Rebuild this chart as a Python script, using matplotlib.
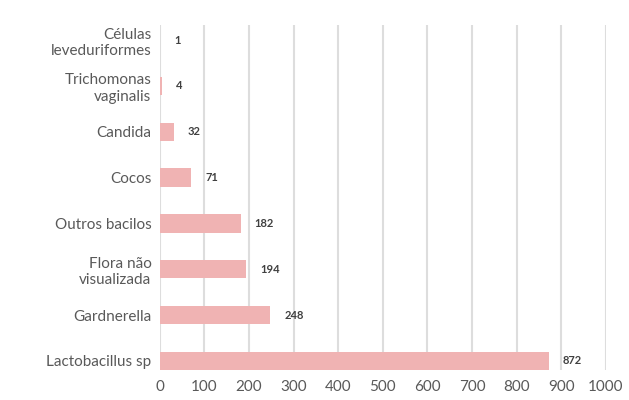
import matplotlib
matplotlib.use("Agg")
import matplotlib.pyplot as plt

# Data (top to bottom) ...
categories = ["Células\nleveduriformes", "Trichomonas\nvaginalis", "Candida", "Cocos",
              "Outros bacilos", "Flora não\nvisualizada", "Gardnerella", "Lactobacillus sp"]
values = [1, 4, 32, 71, 182, 194, 248, 872]
xticks = [0, 100, 200, 300, 400, 500, 600, 700, 800, 900, 1000]

plt.rcParams["font.family"] = ["Lato", "DejaVu Sans"]

fg = plt.figure(figsize=(6.29, 4.0), dpi=100)
ax = fg.add_axes([0.254, 0.075, 0.709, 0.8625])

ypos = list(range(len(categories)))[::-1]
ax.barh(ypos, values, height=0.4, color="#F0B3B3", zorder=3)

for y, v in zip(ypos, values):
    ax.annotate(f"{v:d}", (v, y), xytext=(10, 0), textcoords="offset points",
                va="center", ha="left", fontsize=8, fontweight="bold", color="#404040")

ax.set_yticks(ypos)
ax.set_yticklabels(categories, fontsize=11, color="#595959", linespacing=1.25)
ax.set_xticks(xticks)
ax.set_xticklabels([str(t) for t in xticks], fontsize=11, color="#595959")
ax.set_xlim(0, 1000)
ax.set_ylim(-0.2, len(categories) - 0.67)
ax.grid(axis="x", color="#DDDDDD", linewidth=1.5, zorder=0)
ax.tick_params(length=0, pad=6)
ax.tick_params(axis="x", pad=7)
for s in ax.spines.values():
    s.set_visible(False)

fg.savefig("out.png", dpi=100)
plt.close(fg)
